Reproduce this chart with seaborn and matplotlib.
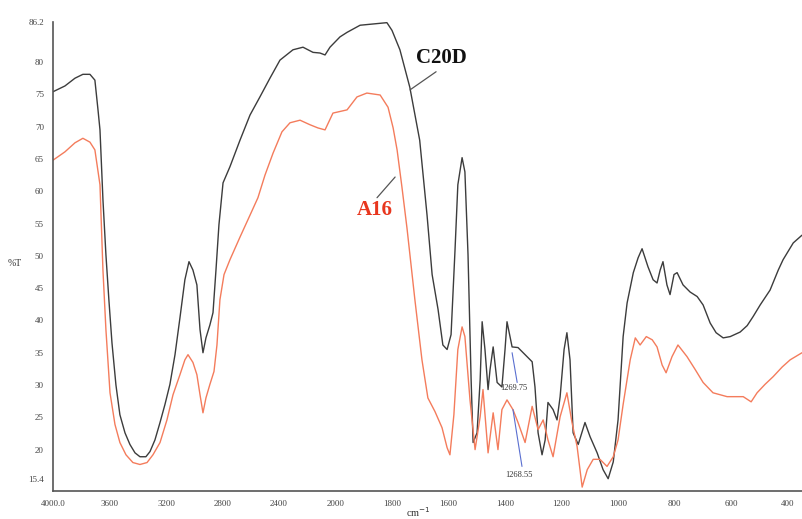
import numpy as np
import pandas as pd
import seaborn as sns
import matplotlib.pyplot as plt

# wavenumber (cm-1) / transmittance (%T)
c20d_wn = [4000, 3915, 3844, 3788, 3738, 3703, 3681, 3667, 3646, 3625, 3604, 3582, 3554, 3526,
           3490, 3455, 3419, 3384, 3342, 3313, 3278, 3242, 3207, 3172, 3136, 3101, 3066, 3037,
           3009, 2981, 2959, 2938, 2917, 2889, 2867, 2846, 2825, 2796, 2747, 2676, 2605, 2535,
           2464, 2393, 2301, 2230, 2159, 2110, 2074, 2039, 1984, 1959, 1913, 1842, 1818, 1800,
           1772, 1737, 1702, 1676, 1658, 1637, 1620, 1605, 1591, 1577, 1567, 1552, 1542, 1531,
           1520, 1513, 1499, 1488, 1481, 1471, 1460, 1453, 1442, 1428, 1411, 1400, 1393, 1375,
           1354, 1322, 1304, 1294, 1283, 1269, 1258, 1248, 1230, 1216, 1205, 1191, 1181, 1170,
           1159, 1141, 1117, 1099, 1074, 1053, 1035, 1017, 1000, 982, 968, 946, 929, 915, 894,
           876, 862, 851, 841, 827, 816, 802, 791, 770, 745, 720, 699, 674, 653, 628, 603, 568,
           543, 522, 497, 462, 433, 416, 380, 349]
c20d_t = [75.4, 76.3, 77.5, 78.1, 78.1, 77.2, 72.6, 69.5, 58.7, 50.2, 43.2, 36.5, 30.0, 25.4,
          22.6, 20.8, 19.5, 18.9, 18.9, 19.7, 21.5, 24.2, 27.0, 30.1, 34.7, 40.4, 46.3, 49.1,
          47.8, 45.5, 38.6, 35.0, 37.3, 39.3, 41.2, 47.8, 54.8, 61.3, 63.8, 67.9, 71.8, 74.6,
          77.5, 80.3, 81.9, 82.3, 81.5, 81.4, 81.1, 82.3, 83.9, 84.6, 85.7, 86.0, 86.1, 84.9,
          81.9, 76.1, 67.9, 56.3, 47.1, 41.7, 36.2, 35.5, 37.8, 50.9, 61.0, 65.2, 63.0, 50.2,
          30.8, 21.1, 22.6, 30.8, 39.8, 35.5, 29.3, 32.4, 35.9, 30.4, 29.7, 35.5, 39.8, 35.9,
          35.8, 34.4, 33.6, 29.7, 22.6, 19.2, 21.5, 27.3, 26.2, 24.6, 28.2, 35.5, 38.1, 33.9,
          22.6, 20.8, 24.2, 22.0, 19.5, 16.9, 15.5, 18.1, 24.6, 37.5, 42.7, 47.4, 49.7, 51.1, 48.3,
          46.3, 45.8, 47.8, 49.1, 45.5, 44.0, 47.1, 47.4, 45.5, 44.4, 43.7, 42.4, 39.6, 38.1, 37.3,
          37.5, 38.2, 39.2, 40.6, 42.4, 44.7, 47.8, 49.4, 52.0, 53.2]

a16_wn = [4000, 3915, 3844, 3788, 3738, 3703, 3667, 3646, 3625, 3596, 3561, 3526, 3483, 3434,
          3384, 3334, 3292, 3242, 3193, 3150, 3101, 3066, 3044, 3009, 2981, 2959, 2938, 2917,
          2889, 2860, 2839, 2818, 2789, 2747, 2676, 2605, 2549, 2499, 2442, 2379, 2322, 2251,
          2181, 2124, 2074, 2018, 1959, 1924, 1889, 1842, 1814, 1796, 1782, 1765, 1747, 1719,
          1694, 1673, 1648, 1623, 1605, 1595, 1581, 1567, 1552, 1542, 1524, 1506, 1488, 1478,
          1460, 1442, 1425, 1411, 1393, 1372, 1354, 1329, 1304, 1283, 1265, 1248, 1230, 1205,
          1181, 1163, 1145, 1127, 1109, 1088, 1064, 1039, 1017, 1000, 982, 957, 939, 922, 900,
          879, 862, 844, 830, 809, 788, 756, 727, 699, 664, 614, 557, 529, 508, 480, 451, 419,
          391, 349]
a16_t = [64.8, 66.1, 67.5, 68.2, 67.6, 66.4, 61.0, 47.8, 38.6, 28.8, 23.9, 21.1, 19.2, 18.0,
         17.7, 18.0, 19.2, 21.1, 24.6, 28.5, 31.6, 33.9, 34.7, 33.5, 31.6, 28.5, 25.7, 28.0,
         30.1, 32.1, 36.2, 43.2, 47.1, 49.4, 52.9, 56.3, 59.0, 62.5, 65.9, 69.2, 70.6, 71.0,
         70.3, 69.8, 69.5, 72.1, 72.6, 74.6, 75.2, 74.9, 73.0, 69.8, 66.4, 60.7, 54.3, 43.2,
         33.9, 28.0, 25.9, 23.4, 20.3, 19.2, 25.4, 35.5, 39.0, 37.5, 27.7, 20.0, 25.1, 29.3,
         19.5, 25.7, 20.0, 26.2, 27.7, 26.2, 24.2, 21.1, 26.7, 23.1, 24.6, 21.5, 18.9, 25.1,
         28.8, 24.2, 20.5, 14.2, 16.9, 18.5, 18.5, 17.4, 18.9, 21.5, 27.0, 33.9, 37.3, 36.2, 37.5,
         37.0, 35.9, 33.1, 31.9, 34.4, 36.2, 34.4, 32.4, 30.4, 28.8, 28.2, 28.2, 27.4, 28.8, 30.1,
         31.3, 32.8, 33.9, 35.0]

x_ticks = [4000, 3600, 3200, 2800, 2400, 2000, 1800, 1600, 1400, 1200, 1000, 800, 600, 400]
x_labels = ['4000.0', '3600', '3200', '2800', '2400', '2000', '1800', '1600', '1400', '1200',
            '1000', '800', '600', '400']
y_ticks = [15.4, 20, 25, 30, 35, 40, 45, 50, 55, 60, 65, 70, 75, 80, 86.2]
y_labels = ['15.4', '20', '25', '30', '35', '40', '45', '50', '55', '60', '65', '70', '75', '80', '86.2']


def fwd(w):
    # 400 cm-1 per division above 2000, 200 below (usual IR chart scale change)
    w = np.asarray(w, dtype=float)
    return np.where(w >= 2000, (w - 2000) / 400, (w - 2000) / 200)


def inv(v):
    v = np.asarray(v, dtype=float)
    return np.where(v >= 0, 2000 + 400 * v, 2000 + 200 * v)


sns.set_theme(style="white")
plt.rcParams['font.family'] = ['Liberation Serif', 'DejaVu Serif']

fig = plt.figure(figsize=(8.02, 5.19), dpi=100)
ax = fig.add_axes([0.066, 0.054, 0.934, 0.9036])
ax.set_xscale('function', functions=(fwd, inv))

df_c = pd.DataFrame({'wn': c20d_wn, 't': c20d_t})
df_a = pd.DataFrame({'wn': a16_wn, 't': a16_t})
sns.lineplot(data=df_c, x='wn', y='t', ax=ax, color='#3c3c3c', lw=1.0, estimator=None, sort=False)
sns.lineplot(data=df_a, x='wn', y='t', ax=ax, color='#f47c5c', lw=1.0, estimator=None, sort=False)

ax.set_xlim(4000, 349)
ax.set_ylim(13.6, 86.2)
ax.set_xticks(x_ticks)
ax.set_xticklabels(x_labels)
ax.set_yticks(y_ticks)
ax.set_yticklabels(y_labels)
ax.minorticks_off()
ax.tick_params(axis='both', labelsize=6.5, labelcolor='#444444', color='#555555',
               length=2.5, width=0.8, direction='out', pad=4)
ax.set_xlabel('')
ax.set_ylabel('')
for s in ['top', 'right']:
    ax.spines[s].set_visible(False)
for s in ['left', 'bottom']:
    ax.spines[s].set_color('#555555')
    ax.spines[s].set_linewidth(1.2)

# series labels with leader lines
ax.plot([1644, 1736], [78.5, 75.7], color='#555555', lw=0.9)
ax.text(1627, 80.6, 'C20D', fontsize=15, fontweight='bold', color='#111111', ha='center', va='center')
ax.plot([1789, 1853], [62.2, 59.0], color='#555555', lw=0.9)
ax.text(1860, 57.1, 'A16', fontsize=15, fontweight='bold', color='#e8361e', ha='center', va='center')

# peak pick markers
ax.plot([1375, 1357], [35.0, 30.4], color='#5a6fd0', lw=0.8)
ax.plot([1372, 1340], [26.2, 17.4], color='#5a6fd0', lw=0.8)
ax.text(1416, 29.6, '1269.75', fontsize=6, color='#333333', ha='left', va='center')
ax.text(1400, 16.0, '1268.55', fontsize=6, color='#333333', ha='left', va='center')

fig.text(15 / 802, 1 - 263 / 519, '%T', fontsize=7, color='#333333', ha='center', va='center')
fig.text(418 / 802, 0.0, 'cm$^{-1}$', fontsize=7.5, color='#333333', ha='center', va='bottom')

fig.savefig('out.png', dpi=100)
